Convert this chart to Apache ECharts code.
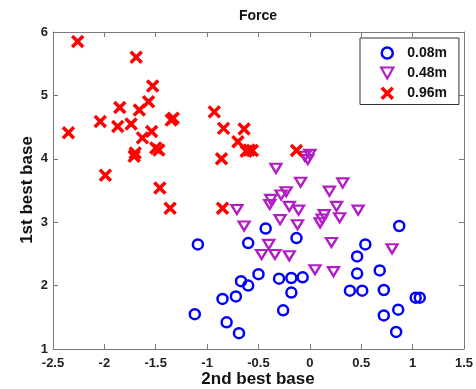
<!DOCTYPE html>
<html>
<head>
<meta charset="utf-8">
<script src="https://cdn.jsdelivr.net/npm/echarts@6/dist/echarts.min.js"></script>
<style>html,body{margin:0;padding:0;background:#fff}#c{width:476px;height:389px}</style>
</head>
<body>
<div id="c"></div>
<script>
var titleText = 'Force';
var xName = '2nd best base';
var yName = '1st best base';
var seriesNames = ['0.08m', '0.48m', '0.96m'];

var blueX = [-1.09,-0.43,-0.13,-0.60,-0.50,-0.67,-0.60,-0.30,-0.18,-0.07,-0.18,-0.85,-0.72,-1.12,-0.81,-0.26,-0.69,0.87,0.54,0.46,0.46,0.68,0.39,0.51,0.72,1.03,1.07,0.86,0.72,0.84];
var blueY = [2.65,2.90,2.75,2.67,2.18,2.07,2.00,2.11,2.12,2.13,1.89,1.79,1.83,1.55,1.42,1.61,1.25,2.94,2.65,2.46,2.19,2.24,1.92,1.92,1.93,1.81,1.81,1.62,1.53,1.27];

var purpleX = [-0.05,0.00,-0.02,-0.33,-0.09,0.32,0.19,-0.23,-0.38,-0.28,-0.39,-0.20,-0.11,0.26,0.47,0.14,0.29,0.10,0.12,-0.71,-0.29,-0.12,-0.64,0.21,-0.40,-0.47,-0.34,-0.20,0.80,0.05,0.23];
var purpleY = [4.04,4.07,3.99,3.85,3.63,3.62,3.49,3.48,3.36,3.43,3.28,3.25,3.19,3.25,3.19,3.12,3.07,2.99,3.05,3.20,3.04,2.96,2.94,2.68,2.65,2.49,2.49,2.47,2.58,2.25,2.22];

var redX = [-2.26,-1.69,-1.53,-1.57,-1.85,-1.66,-2.04,-1.33,-1.35,-1.87,-1.74,-2.35,-1.54,-1.63,-1.50,-1.47,-1.71,-1.70,-1.99,-1.46,-1.36,-0.93,-0.84,-0.64,-0.70,-0.62,-0.59,-0.56,-0.86,-0.13,-0.85];
var redY = [5.85,5.60,5.15,4.90,4.81,4.77,4.59,4.64,4.61,4.51,4.55,4.41,4.43,4.33,4.17,4.14,4.04,4.09,3.74,3.54,3.22,4.74,4.48,4.47,4.27,4.12,4.14,4.13,4.00,4.13,3.22];

function pairs(xs, ys) { return xs.map(function (x, i) { return [x, ys[i]]; }); }

var FONT = "'Liberation Sans', Arial, sans-serif";
var blue = '#0000ff', purple = '#b01ec4', red = '#ff0000';
var triPath = 'path://M0,0L10,0L5,9Z';
var xPath = 'path://M0,0L10,10M10,0L0,10';
var clear = 'rgba(0,0,0,0)';
var axisColor = '#7a7a7a';

var chart = echarts.init(document.getElementById('c'), null, {renderer: 'canvas'});
var axisCommon = {
  axisLine: {show: true, onZero: false, lineStyle: {color: axisColor, width: 1}},
  axisTick: {show: true, inside: true, length: 5, lineStyle: {color: axisColor}},
  splitLine: {show: false}
};
chart.setOption({
  animation: false,
  backgroundColor: '#fff',
  graphic: [
    {
      type: 'text', x: 258, y: 16,
      style: {text: titleText, align: 'center', verticalAlign: 'middle', font: 'bold 14px ' + FONT, fill: '#111'}
    },
    {
      type: 'text', x: 258, y: 379,
      style: {text: xName, align: 'center', verticalAlign: 'middle', font: 'bold 17px ' + FONT, fill: '#111'}
    },
    {
      type: 'text', x: 27, y: 190, rotation: Math.PI / 2,
      style: {text: yName, align: 'center', verticalAlign: 'middle', font: 'bold 17px ' + FONT, fill: '#111'}
    }
  ],
  grid: {left: 53, right: 12, top: 32, bottom: 40},
  legend: {
    orient: 'vertical', left: 360, top: 38,
    padding: [8, 12, 4, 20], itemGap: 6, itemWidth: 30, itemHeight: 11,
    borderColor: '#333', borderWidth: 1, backgroundColor: '#fff',
    textStyle: {fontFamily: FONT, fontSize: 14, fontWeight: 'bold', color: '#111', lineHeight: 14},
    data: [
      {name: seriesNames[0], icon: 'circle', itemStyle: {color: clear, borderColor: blue, borderWidth: 2.5}},
      {name: seriesNames[1], icon: triPath, itemStyle: {color: clear, borderColor: purple, borderWidth: 2.2}},
      {name: seriesNames[2], icon: xPath, itemStyle: {color: clear, borderColor: red, borderWidth: 3.5}}
    ]
  },
  xAxis: [
    Object.assign({
      type: 'value', min: -2.5, max: 1.5, interval: 0.5, position: 'bottom',
      axisLabel: {fontFamily: FONT, fontSize: 13, fontWeight: 'bold', color: '#222', margin: 8}
    }, axisCommon),
    Object.assign({
      type: 'value', min: -2.5, max: 1.5, interval: 0.5, position: 'top',
      axisLabel: {show: false}
    }, axisCommon)
  ],
  yAxis: [
    Object.assign({
      type: 'value', min: 1, max: 6, interval: 1, position: 'left',
      axisLabel: {fontFamily: FONT, fontSize: 13, fontWeight: 'bold', color: '#222', margin: 5}
    }, axisCommon),
    Object.assign({
      type: 'value', min: 1, max: 6, interval: 1, position: 'right',
      axisLabel: {show: false}
    }, axisCommon)
  ],
  series: [
    {
      name: seriesNames[0], type: 'scatter', data: pairs(blueX, blueY),
      symbol: 'circle', symbolSize: 10,
      itemStyle: {color: clear, borderColor: blue, borderWidth: 2.5, opacity: 1}
    },
    {
      name: seriesNames[1], type: 'scatter', data: pairs(purpleX, purpleY),
      symbol: triPath, symbolSize: [11, 9],
      itemStyle: {color: clear, borderColor: purple, borderWidth: 2.3, opacity: 1}
    },
    {
      name: seriesNames[2], type: 'scatter', data: pairs(redX, redY),
      symbol: xPath, symbolSize: 11,
      itemStyle: {color: clear, borderColor: red, borderWidth: 3.5, opacity: 1}
    }
  ]
});
</script>
</body>
</html>
